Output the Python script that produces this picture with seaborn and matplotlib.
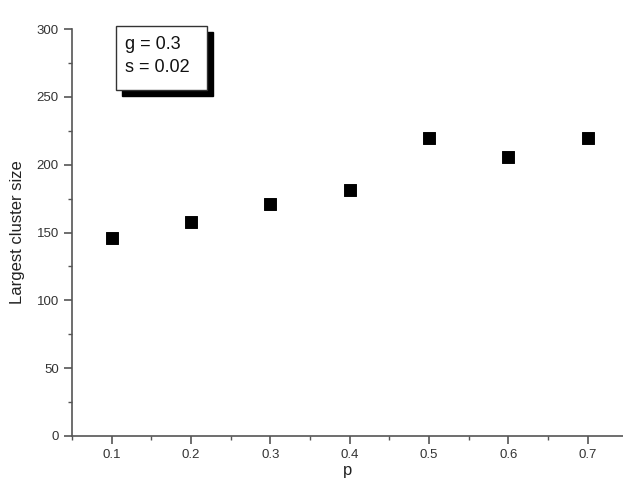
import matplotlib
matplotlib.use("Agg")
import matplotlib.pyplot as plt
import seaborn as sns
import pandas as pd
from matplotlib.ticker import MultipleLocator
from matplotlib.patches import Rectangle

p_values = [0.1, 0.2, 0.3, 0.4, 0.5, 0.6, 0.7]
cluster_size = [146, 158, 171, 181, 220, 206, 220]

sns.set_theme(style="ticks")
plt.rcParams['font.family'] = ['Liberation Sans', 'DejaVu Sans']

df = pd.DataFrame({"p": p_values, "size": cluster_size})

fig = plt.figure(figsize=(6.23, 4.84), dpi=100)
ax = fig.add_axes([72/623, 48/484, (623-72)/623, 407/484])
sns.scatterplot(data=df, x="p", y="size", marker="s", s=70, color="black",
                edgecolor="black", ax=ax, zorder=3)

ax.set_xlim(0.05, 0.7 + 35/790)
ax.set_ylim(0, 300)
ax.xaxis.set_minor_locator(MultipleLocator(0.05))
ax.yaxis.set_major_locator(MultipleLocator(50))
ax.yaxis.set_minor_locator(MultipleLocator(25))
ax.set_xticks(p_values)
ax.set_xticklabels([f"{v:.1f}" for v in p_values])
for s in ["top", "right"]:
    ax.spines[s].set_visible(False)
for s in ["left", "bottom"]:
    ax.spines[s].set_color("#555555")
    ax.spines[s].set_linewidth(1.2)
ax.tick_params(axis="both", which="major", direction="out", length=6, width=1.2,
               color="#555555", labelsize=9.5, labelcolor="#333333")
ax.tick_params(axis="both", which="minor", direction="out", length=3, width=1.0,
               color="#555555")
ax.set_xlabel("p", fontsize=12, labelpad=1, color="#222222")
ax.set_ylabel("Largest cluster size", fontsize=12, labelpad=8, color="#222222")

# annotation box with shadow (in figure pixel coords)
x0, y0, w, h = 116, 484 - 90, 91, 64
fig.patches.append(Rectangle(((x0 + 6)/623, (y0 - 6)/484), w/623, h/484,
                             transform=fig.transFigure, facecolor="black",
                             edgecolor="black", zorder=5))
fig.patches.append(Rectangle((x0/623, y0/484), w/623, h/484,
                             transform=fig.transFigure, facecolor="white",
                             edgecolor="#333333", linewidth=1.0, zorder=6))
fig.text((x0 + 9)/623, (y0 + h - 10)/484, "g = 0.3\ns = 0.02", fontsize=13,
         va="top", ha="left", linespacing=1.45, zorder=7, color="#111111")

fig.savefig("out.png", dpi=100)
